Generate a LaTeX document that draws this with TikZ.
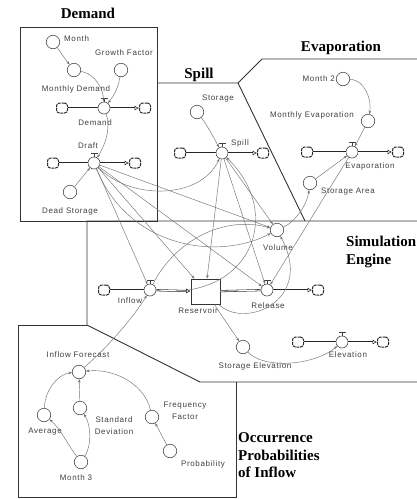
\documentclass[tikz,border=0pt]{standalone}
\usepackage{fontspec}
\setmainfont{Liberation Serif}
\newfontfamily\labfont[LetterSpace=8]{Liberation Sans}
\newfontfamily\ttlfont{Liberation Serif}
\usetikzlibrary{arrows.meta,shapes.symbols}
\tikzset{
  conv/.style={circle,draw=black!70,line width=0.6pt,minimum size=13.5pt,inner sep=0pt,fill=white},
  valve/.style={circle,draw=black!70,line width=0.6pt,minimum size=12pt,inner sep=0pt,fill=white},
  cld/.style={rectangle,rounded corners=3pt,draw=black!85,line width=1pt,dash pattern=on 3pt off 0.8pt,minimum width=11pt,minimum height=10pt,inner sep=0pt,fill=white},
  stock/.style={rectangle,draw=black!80,line width=0.75pt,minimum width=29pt,minimum height=25pt,inner sep=0pt,fill=white},
  lab/.style={font=\labfont\fontsize{8}{12}\selectfont,text=black!75,inner sep=0pt},
  ttl/.style={font=\ttlfont\bfseries\fontsize{15}{17.5}\selectfont,inner sep=0pt},
  link/.style={draw=black!55,line width=0.45pt,-{Stealth[length=3.5pt,width=2.6pt]}},
  pipe/.style={draw=black!85,line width=0.55pt,double=white,double distance=0.9pt},
  pipea/.style={pipe,-{Latex[length=4.5pt,width=5pt,open]}},
  region/.style={draw=black!80,line width=0.9pt},
  vt/.style={draw=black!75,line width=0.6pt}
}
\begin{document}
\begin{tikzpicture}[x=1pt,y=-1pt]
\useasboundingbox (0,0) rectangle (417,499);
\fill[white] (0,0) rectangle (417,499);
% regions
\draw[region] (20,27) rectangle (157,221);
\draw[region] (157,83) -- (238,83) -- (262,59) -- (417,59);
\draw[region] (238,83) -- (305,221);
\draw[region] (417,221) -- (87,221) -- (87,325) -- (200,382) -- (417,382);
\draw[region] (87,325) -- (18,325) -- (18,497) -- (236,497) -- (236,382);
% titles
\node[ttl] (tdem) at (88,13) {Demand};
\node[ttl] (tspill) at (199,75) {Spill};
\node[ttl] (tevap) at (341,48) {Evaporation};
\node[ttl,anchor=west,align=left] (tsim) at (346,252) {Simulation\\Engine};
\node[ttl,anchor=west,align=left] (tocc) at (238,455.5) {Occurrence\\Probabilities\\of Inflow};
% Demand
\node[conv] (month) at (53,42) {};
\node[lab,anchor=west] (lmonth) at (64,39) {Month};
\node[conv] (gf) at (121,70) {};
\node[lab] (lgf) at (124,53) {Growth Factor};
\node[conv] (md) at (74,70) {};
\node[lab] (lmd) at (76,89) {Monthly Demand};
\node[cld] (dc1) at (62,108) {};
\node[valve] (dem) at (104,108) {};
\node[cld] (dc2) at (145,108) {};
\node[lab] (ldem) at (95,123) {Demand};
\node[cld] (rc1) at (53,163) {};
\node[valve] (draft) at (94,163) {};
\node[cld] (rc2) at (135,163) {};
\node[lab] (ldraft) at (88,146) {Draft};
\node[conv] (ds) at (70,192) {};
\node[lab] (lds) at (70,211) {Dead Storage};
% Spill
\node[conv] (stor) at (197,112) {};
\node[lab] (lstor) at (218,99) {Storage};
\node[cld] (sc1) at (180,153) {};
\node[valve] (spill) at (222,153) {};
\node[cld] (sc2) at (263,153) {};
\node[lab] (lspill) at (240,143) {Spill};
% Evaporation
\node[conv] (m2) at (343,79) {};
\node[lab,anchor=east] (lm2) at (335,79) {Month 2};
\node[conv] (me) at (368,121) {};
\node[lab] (lme) at (312,115) {Monthly Evaporation};
\node[cld] (ec1) at (307,152) {};
\node[valve] (evap) at (352,152) {};
\node[cld] (ec2) at (398,152) {};
\node[lab] (levap) at (370,166) {Evaporation};
\node[conv] (sa) at (310,183) {};
\node[lab] (lsa) at (348,192) {Storage Area};
% Simulation engine
\node[conv] (vol) at (277,230) {};
\node[lab] (lvol) at (278,248) {Volume};
\node[cld] (ic1) at (104,290) {};
\node[valve] (inflow) at (150,290) {};
\node[lab] (linflow) at (130,301) {Inflow};
\node[stock] (res) at (205.5,291.5) {};
\node[lab] (lres) at (198,311) {Reservoir};
\node[valve] (rel) at (267,290) {};
\node[cld] (relc) at (318,290) {};
\node[lab] (lrel) at (268,306) {Release};
\node[conv] (se) at (243,347) {};
\node[lab] (lse) at (255,366) {Storage Elevation};
\node[cld] (elc1) at (298,342) {};
\node[valve] (elev) at (342,342) {};
\node[cld] (elc2) at (383,342) {};
\node[lab] (lelev) at (348,355) {Elevation};
% Occurrence
\node[conv] (if) at (79,372) {};
\node[lab] (lif) at (78,355) {Inflow Forecast};
\node[conv] (avg) at (44,415) {};
\node[lab] (lavg) at (45,432) {Average};
\node[conv] (sd) at (80,408) {};
\node[lab,align=center] (lsd) at (114,426) {Standard\\Deviation};
\node[conv] (ff) at (152,417) {};
\node[lab,align=center] (lff) at (185,410.5) {Frequency\\Factor};
\node[conv] (m3) at (81,462) {};
\node[lab] (lm3) at (76,478) {Month 3};
\node[conv] (prob) at (170,451) {};
\node[lab] (lprob) at (203,464) {Probability};
% pipes
\draw[pipe] (dc1) -- (dem); \draw[pipea] (dem) -- (dc2);
\draw[pipe] (rc1) -- (draft); \draw[pipea] (draft) -- (rc2);
\draw[pipe] (sc1) -- (spill); \draw[pipea] (spill) -- (sc2);
\draw[pipe] (ec1) -- (evap); \draw[pipea] (evap) -- (ec2);
\draw[pipe] (ic1) -- (inflow); \draw[pipea] (inflow) -- (res);
\draw[pipe] (res) -- (rel); \draw[pipea] (rel) -- (relc);
\draw[pipe] (elc1) -- (elev); \draw[pipea] (elev) -- (elc2);
\foreach \v in {dem,draft,spill,evap,inflow,rel,elev}
  \draw[vt] (\v.north) -- ++(0,-3) ++(-3.5,0) -- ++(7,0);
% links: Demand
\draw[link] (month) .. controls (59,50) and (65,59) .. (md);
\draw[link] (md) .. controls (95,74) and (103,88) .. (dem);
\draw[link] (gf) .. controls (118,90) and (112,98) .. (dem);
\draw[link] (dem) .. controls (110,125) and (108,140) .. (draft);
\draw[link] (ds) -- (draft);
% Spill
\draw[link] (stor) .. controls (207,125) and (214,138) .. (spill);
\draw[link] (draft) .. controls (130,200) and (200,200) .. (spill);
\draw[link] (spill) -- (vol);
\draw[link] (spill) -- (rel);
\draw[link] (spill) -- (res);
\draw[link] (inflow) .. controls (250,300) and (285,215) .. (spill);
% Evaporation
\draw[link] (m2) .. controls (365,80) and (372,100) .. (me);
\draw[link] (me) -- (evap);
\draw[link] (sa) -- (evap);
\draw[link] (vol) .. controls (295,222) and (307,205) .. (sa);
\draw[link] (evap) -- (rel);
% Draft fan
\draw[link] (draft) -- (inflow);
\draw[link] (draft) -- (res);
\draw[link] (draft) -- (rel);
\draw[link] (draft) -- (vol);
\draw[link] (draft) .. controls (130,250) and (220,260) .. (vol);
% Simulation engine
\draw[link] (res) .. controls (245,330) and (315,300) .. (vol);
\draw[link] (res) -- (se);
\draw[link] (se) .. controls (265,370) and (315,365) .. (elev);
\draw[link] (if) .. controls (110,345) and (135,315) .. (inflow);
\draw[link] (inflow) .. controls (175,240) and (225,215) .. (vol);
% Occurrence
\draw[link] (avg) .. controls (45,390) and (58,374) .. (if);
\draw[link] (sd) -- (if);
\draw[link] (ff) .. controls (145,385) and (115,368) .. (if);
\draw[link] (m3) .. controls (68,445) and (60,428) .. (avg);
\draw[link] (m3) .. controls (92,445) and (91,425) .. (sd);
\draw[link] (prob) -- (ff);
\end{tikzpicture}
\end{document}
